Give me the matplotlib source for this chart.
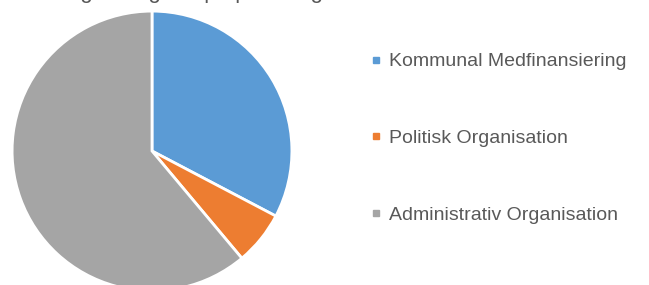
import matplotlib.pyplot as plt
from matplotlib.lines import Line2D

plt.rcParams['font.family'] = ['Liberation Sans', 'DejaVu Sans']

labels = ['Kommunal Medfinansiering', 'Politisk Organisation', 'Administrativ Organisation']
shares = [32.7, 6.2, 61.1]
colors = ['#5B9BD5', '#ED7D31', '#A5A5A5']
title = 'Fordeling af udgifter på politik og administration'

fig = plt.figure(figsize=(6.49, 2.85), dpi=100)
ax = fig.add_axes([10 / 649, -8 / 285, 284 / 649, 284 / 285])
ax.pie(shares, colors=colors, startangle=90, counterclock=False,
       radius=1, wedgeprops=dict(edgecolor='white', linewidth=2))
ax.set_xlim(-1.015, 1.015)
ax.set_ylim(-1.015, 1.015)
ax.set_aspect('equal')
ax.axis('off')

# title sits almost entirely above the canvas, like the cropped original
fig.text(0.0, 1 + 2 / 285, title, fontsize=16, color='#595959', va='baseline', ha='left')

handles = [Line2D([], [], marker='s', linestyle='none', markersize=4.5,
                  markerfacecolor=c, markeredgecolor=c) for c in colors]
fig.legend(handles, labels, loc='upper left', bbox_to_anchor=(360 / 649, 1 - 43 / 285),
           frameon=False, fontsize=14, labelcolor='#595959', labelspacing=3.05,
           handlelength=0.6, handletextpad=0.4, borderpad=0)

fig.savefig('out.png', dpi=100)
